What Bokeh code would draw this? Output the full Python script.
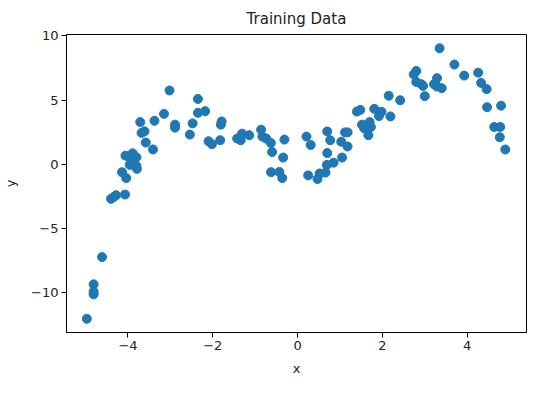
from bokeh.plotting import figure
from bokeh.models import Range1d, FixedTicker
from bokeh.embed import file_html
from bokeh.resources import INLINE

x_vals = [-4.97, -4.81, -4.81, -4.81, -4.61, -4.40, -4.33, -4.28, -4.07, -4.14,
          -4.04, -4.06, -3.96, -3.89, -3.80, -3.80, -3.79, -3.93, -3.71, -3.68,
          -3.61, -3.58, -3.41, -3.375, -3.15, -3.02, -2.89, -2.89, -2.54, -2.475,
          -2.35, -2.35, -2.18, -2.10, -2.02, -1.825, -1.81, -1.79, -1.425, -1.34,
          -1.31, -1.14, -0.86, -0.83, -0.74, -0.63, -0.60, -0.625, -0.43, -0.36,
          -0.34, -0.31, 0.21, 0.31, 0.25, 0.47, 0.52, 0.66, 0.69, 0.70,
          0.70, 0.77, 0.85, 1.03, 1.05, 1.12, 1.18, 1.18, 1.40, 1.48,
          1.52, 1.57, 1.62, 1.67, 1.70, 1.73, 1.81, 1.92, 1.98, 2.15,
          2.19, 2.42, 2.74, 2.80, 2.80, 2.92, 2.96, 3.00, 3.22, 3.29,
          3.29, 3.40, 3.35, 3.70, 3.93, 4.26, 4.33, 4.46, 4.47, 4.64,
          4.78, 4.80, 4.77, 4.90]
y_vals = [-12.03, -9.35, -9.92, -10.13, -7.23, -2.69, -2.54, -2.41, -2.36, -0.62,
          -1.08, 0.67, -0.05, 0.85, 0.54, -0.13, -0.36, 0.35, 3.28, 2.44,
          2.56, 1.69, 1.15, 3.38, 3.92, 5.74, 3.08, 2.85, 2.31, 3.18,
          5.08, 4.00, 4.13, 1.79, 1.56, 1.87, 3.08, 3.33, 2.00, 1.87,
          2.38, 2.26, 2.69, 2.15, 2.00, 1.65, 0.95, -0.62, -0.60, -1.08,
          0.52, 1.92, 2.15, 1.50, -0.87, -1.15, -0.72, -0.65, -0.05, 0.87,
          2.55, 1.87, 0.12, 1.75, 0.52, 2.48, 2.48, 1.38, 4.10, 4.23,
          3.08, 2.80, 3.03, 2.26, 3.28, 2.90, 4.31, 3.75, 4.08, 5.33,
          3.72, 4.98, 7.00, 7.26, 6.41, 6.23, 6.10, 5.30, 6.23, 6.70,
          6.05, 5.92, 9.03, 7.76, 6.90, 7.13, 6.33, 5.85, 4.44, 2.90,
          2.90, 4.56, 2.10, 1.15]

x_ticks = [-4, -2, 0, 2, 4]
y_ticks = [-10, -5, 0, 5, 10]
title_text = "Training Data"
x_label = "x"
y_label = "y"

FONT = "DejaVu Sans"
TXT = "#222222"

p = figure(width=543, height=378, output_backend="svg", toolbar_location=None,
           x_range=Range1d(-5.45, 5.40), y_range=Range1d(-13.1, 10.1),
           min_border_left=63, min_border_right=17, min_border_top=34,
           min_border_bottom=39, title=title_text)

p.title.align = "center"
p.title.text_font = FONT
p.title.text_font_size = "15px"
p.title.text_font_style = "normal"
p.title.text_color = TXT
p.title.standoff = 14

p.scatter(x_vals, y_vals, size=9, color="#1f77b4", line_color="#1f77b4")

p.grid.visible = False
p.outline_line_color = "black"
p.outline_line_width = 1
p.background_fill_color = "white"
p.border_fill_color = "white"

for ax, ticks, lab in ((p.xaxis[0], x_ticks, x_label), (p.yaxis[0], y_ticks, y_label)):
    ax.ticker = FixedTicker(ticks=ticks)
    ax.major_label_overrides = {t: (str(t).replace("-", "\u2212")) for t in ticks}
    ax.axis_label = lab
    ax.axis_label_text_font = FONT
    ax.axis_label_text_font_size = "13px"
    ax.axis_label_text_font_style = "normal"
    ax.axis_label_text_color = TXT
    ax.major_label_text_font = FONT
    ax.major_label_text_font_size = "13px"
    ax.major_label_text_color = TXT
    ax.major_tick_in = 0
    ax.major_tick_out = 5
    ax.minor_tick_line_color = None
    ax.major_tick_line_color = "black"
    ax.axis_line_color = "black"
    ax.major_label_standoff = 3

p.xaxis[0].axis_label_standoff = 8
p.yaxis[0].axis_label_standoff = 10

open("out.html", "w").write(file_html(p, INLINE))
